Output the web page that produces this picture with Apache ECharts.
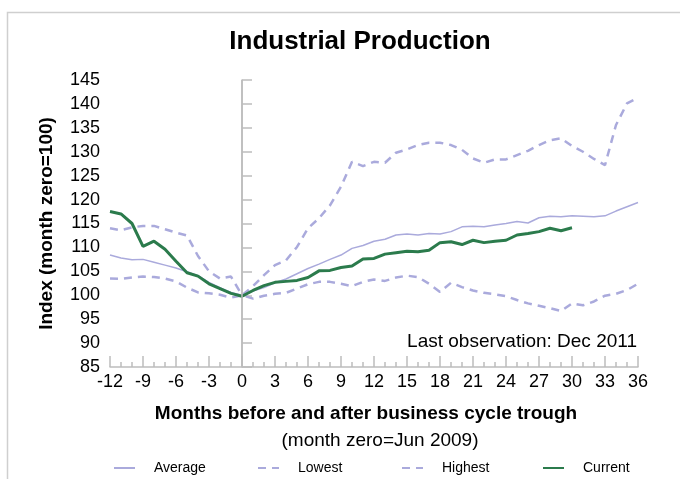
<!DOCTYPE html>
<html>
<head>
<meta charset="utf-8">
<script src="https://cdn.jsdelivr.net/npm/echarts@6/dist/echarts.min.js"></script>
<style>
  html, body { margin: 0; padding: 0; background: #fff; }
  #chart { width: 680px; height: 479px; }
</style>
</head>
<body>
<div id="chart"></div>
<script>
// months relative to the trough (0 = Jun 2009)
var months = [-12, -11, -10, -9, -8, -7, -6, -5, -4, -3, -2, -1, 0,
  1, 2, 3, 4, 5, 6, 7, 8, 9, 10, 11, 12,
  13, 14, 15, 16, 17, 18, 19, 20, 21, 22, 23, 24,
  25, 26, 27, 28, 29, 30, 31, 32, 33, 34, 35, 36];

var average = [108.4, 107.8, 107.4, 107.5, 106.9, 106.3, 105.7, 104.9, 104.1, 102.7, 101.6, 100.6, 100,
  100.9, 101.6, 102.6, 103.4, 104.5, 105.6, 106.5, 107.5, 108.4, 109.8, 110.4, 111.3,
  111.7, 112.6, 112.8, 112.6, 112.9, 112.8, 113.3, 114.3, 114.4, 114.3, 114.7, 115.0,
  115.4, 115.1, 116.2, 116.5, 116.4, 116.6, 116.5, 116.4, 116.6, 117.6, 118.5, 119.4];

var lowest = [103.5, 103.4, 103.7, 103.9, 103.8, 103.5, 102.9, 101.6, 100.6, 100.4, 100.1, 99.5, 100,
  99.3, 99.9, 100.3, 100.5, 101.4, 102.3, 102.8, 102.8, 102.4, 101.9, 102.8, 103.3,
  103.0, 103.7, 104.1, 103.8, 102.4, 100.7, 102.6, 101.7, 101.0, 100.5, 100.2, 99.8,
  99.0, 98.3, 97.8, 97.3, 96.7, 98.3, 97.9, 98.7, 99.9, 100.3, 101.1, 102.4];

var highest = [114.0, 113.6, 114.2, 114.5, 114.5, 113.8, 113.1, 112.5, 108.2, 105.0, 103.5, 103.9, 100,
  101.9, 104.2, 106.3, 107.3, 110.1, 114.0, 116.1, 118.8, 122.7, 127.9, 127.0, 127.9,
  127.7, 129.8, 130.5, 131.4, 131.9, 131.9, 131.4, 130.4, 128.6, 127.7, 128.4, 128.4,
  129.3, 130.2, 131.4, 132.4, 132.8, 131.2, 130.0, 128.5, 127.2, 135.6, 140.1, 141.3];

// current recovery, last observation Dec 2011 (month 30)
var current = [117.5, 117.0, 115.0, 110.2, 111.3, 109.6, 107.1, 104.7, 104.0, 102.4, 101.4, 100.4, 99.8,
  101.0, 102.0, 102.7, 102.9, 103.1, 103.7, 105.1, 105.2, 105.8, 106.1, 107.6, 107.7,
  108.6, 108.9, 109.2, 109.1, 109.4, 111.0, 111.2, 110.6, 111.5, 111.0, 111.3, 111.5,
  112.6, 112.9, 113.3, 114.0, 113.5, 114.1];

var seriesNames = ['Average', 'Lowest', 'Highest', 'Current']

var lilac = '#aaaadc'
var green = '#2b7b4c'
var grey = '#bdbdbd'
var font = 'Liberation Sans, Arial, sans-serif'

function pairs (vals) {
  return vals.map(function (v, i) { return [months[i], v] })
}

// one legend per entry so each sits where the original puts it
var legendLeft = [108, 252, 396, 537]
var legends = seriesNames.map(function (name, i) {
  return {
    left: legendLeft[i],
    top: 456,
    itemWidth: 21,
    itemHeight: 14,
    itemStyle: { opacity: 0 },
    textStyle: { fontSize: 14, color: '#000', fontFamily: font, padding: [0, 0, 0, 14] },
    data: [name]
  }
})

var myChart = echarts.init(document.getElementById('chart'))
var option = {
  animation: false,
  textStyle: { fontFamily: font, color: '#000' },
  title: [
    { text: 'Industrial Production', left: 355, top: 24, textAlign: 'center',
      textStyle: { fontSize: 26, fontWeight: 'bold', color: '#000', fontFamily: font } },
    { text: 'Months before and after business cycle trough', left: 361, top: 399, textAlign: 'center',
      textStyle: { fontSize: 19, fontWeight: 'bold', color: '#000', fontFamily: font } },
    { text: '(month zero=Jun 2009)', left: 375, top: 426, textAlign: 'center',
      textStyle: { fontSize: 19, fontWeight: 'normal', color: '#000', fontFamily: font } },
    { text: 'Last observation: Dec 2011', right: 38, top: 327,
      textStyle: { fontSize: 19, fontWeight: 'normal', color: '#000', fontFamily: font } }
  ],
  graphic: [
    { type: 'rect', shape: { x: 7.5, y: 12.5, width: 720, height: 520 },
      style: { fill: 'none', stroke: '#cfcfcf', lineWidth: 1.5 }, silent: true }
  ],
  legend: legends,
  grid: { left: 110, right: 42, top: 80, bottom: 112 },
  xAxis: {
    type: 'value',
    min: -12,
    max: 36,
    interval: 3,
    axisLine: { lineStyle: { color: grey, width: 1.5 } },
    axisTick: { inside: true, length: 11, lineStyle: { color: grey, width: 1.5 } },
    minorTick: { show: true, splitNumber: 3, length: 5, lineStyle: { color: grey, width: 1.5 } },
    axisLabel: { fontSize: 18, color: '#000', margin: 6 },
    splitLine: { show: false }
  },
  yAxis: {
    type: 'value',
    min: 85,
    max: 145,
    interval: 5,
    name: 'Index (month zero=100)',
    nameLocation: 'middle',
    nameGap: 54,
    nameTextStyle: { fontSize: 19, fontWeight: 'bold', color: '#000' },
    axisLine: { show: true, lineStyle: { color: grey, width: 1.5 } },
    axisTick: { show: true, inside: true, length: 10, lineStyle: { color: grey, width: 1.5 } },
    axisLabel: { fontSize: 18, color: '#000', margin: 10 },
    splitLine: { show: false }
  },
  series: [
    {
      name: 'Average', type: 'line', symbol: 'none', z: 2,
      data: pairs(average),
      lineStyle: { color: lilac, width: 1.5 },
      itemStyle: { color: lilac },
      markLine: {
        silent: true, symbol: 'none', label: { show: false },
        lineStyle: { color: grey, width: 1.5, type: 'solid' },
        data: [{ xAxis: 0 }]
      }
    },
    {
      name: 'Lowest', type: 'line', symbol: 'none', z: 2,
      data: pairs(lowest),
      lineStyle: { color: lilac, width: 2.5, type: [8, 6] },
      itemStyle: { color: lilac }
    },
    {
      name: 'Highest', type: 'line', symbol: 'none', z: 2,
      data: pairs(highest),
      lineStyle: { color: lilac, width: 2.5, type: [8, 6] },
      itemStyle: { color: lilac }
    },
    {
      name: 'Current', type: 'line', symbol: 'none', z: 3,
      data: pairs(current),
      lineStyle: { color: green, width: 3 },
      itemStyle: { color: green }
    }
  ]
}
myChart.setOption(option)
</script>
</body>
</html>
